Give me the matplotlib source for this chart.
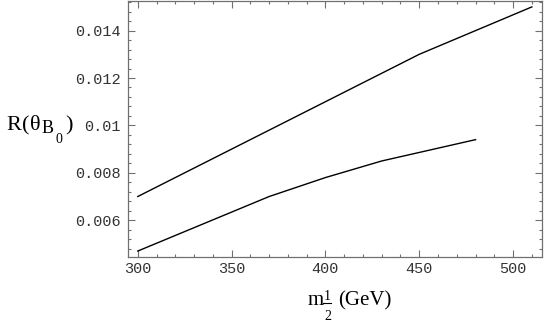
import numpy as np
import matplotlib
matplotlib.use('Agg')
import matplotlib.pyplot as plt
from matplotlib.ticker import FixedLocator, MultipleLocator, FixedFormatter

### Data
m_upper = [300, 350, 400, 450, 510]
r_upper = [0.0070, 0.0090, 0.0110, 0.0130, 0.0150]

m_lower = [300, 370, 400, 430, 480]
r_lower = [0.0047, 0.0070, 0.0078, 0.0085, 0.0094]

xticks = [300, 350, 400, 450, 500]
yticks = [0.006, 0.008, 0.010, 0.012, 0.014]
ytick_labels = ['0.006', '0.008', '0.01', '0.012', '0.014']

W, H = 545, 326

### Figure
fig = plt.figure(figsize=(W/100, H/100), dpi=100)
ax = fig.add_axes([128/W, 1 - 256.5/H, (542 - 128)/W, 256/H])

ax.plot(m_upper, r_upper, '-', color='black', lw=1.0)
ax.plot(m_lower, r_lower, '-', color='black', lw=1.0)

ax.set_xlim(294.8, 515.4)
ax.set_ylim(0.00447, 0.01527)

## Mathematica-like frame: ticks inside on all sides
ax.xaxis.set_major_locator(FixedLocator(xticks))
ax.xaxis.set_minor_locator(MultipleLocator(10))
ax.yaxis.set_major_locator(FixedLocator(yticks))
ax.yaxis.set_major_formatter(FixedFormatter(ytick_labels))
ax.yaxis.set_minor_locator(MultipleLocator(0.0004))
ax.tick_params(which='both', direction='in', top=True, right=True,
               color='#707070', width=0.8)
ax.tick_params(which='major', length=5)
ax.tick_params(which='minor', length=2.5)
ax.tick_params(axis='x', pad=4)
ax.tick_params(axis='y', pad=5)
for lab in ax.get_xticklabels() + ax.get_yticklabels():
    lab.set_fontfamily('Liberation Mono')
    lab.set_fontsize(11)
    lab.set_color('#333333')
for sp in ax.spines.values():
    sp.set_color('#707070')
    sp.set_linewidth(0.9)

### Axis labels, built piece by piece in pixel coordinates
def ptext(x, y, s, size):
    fig.text(x/W, 1 - y/H, s, fontsize=size, ha='left', va='baseline',
             family='Liberation Serif')

## y label: R(theta_B_0)
ptext(6, 130, 'R', 16)
ptext(22, 130, '(', 16)
ptext(30, 130, 'θ', 16)
ptext(42, 133, 'B', 13)
ptext(55, 143, '0', 10)
ptext(65, 130, ')', 16)

## x label: m_(1/2) (GeV)
ptext(308, 305, 'm', 15)
ptext(324, 300, '1', 10)
ptext(324, 320, '2', 10)
fig.add_artist(plt.Line2D([323/W, 331/W], [1 - 303/H, 1 - 303/H],
                          color='black', lw=0.8))
ptext(338, 305, '(GeV)', 15)

fig.savefig('out.png', dpi=100)
